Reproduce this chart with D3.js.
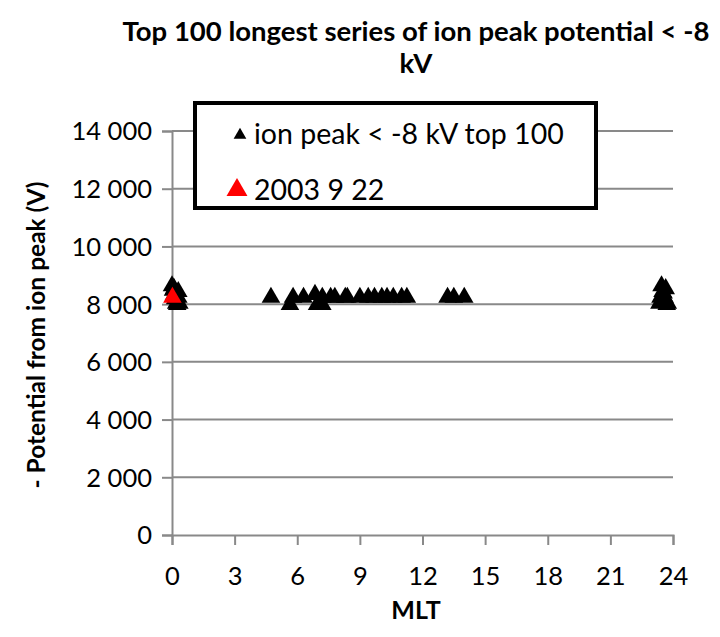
<!DOCTYPE html>
<html>
<head>
<meta charset="utf-8">
<script src="https://cdn.jsdelivr.net/npm/d3@7"></script>
<style>
  body { margin: 0; background: #fff; }
  text { font-family: Lato, "Open Sans", sans-serif; fill: #000; }
</style>
</head>
<body>
<div id="chart"></div>
<script>
// top 100 series (many overlap), MLT in hours, potential in V
var topMlt = [0.0, 0.05, 0.1, 0.15, 0.2, 0.25, 0.3, 0.35, 0.1, 0.3,
              4.74, 5.65, 5.8, 6.3, 6.85, 6.95, 7.2, 7.2, 7.6, 7.8,
              8.3, 8.4, 9.0, 9.4, 9.7, 10.05, 10.3, 10.6, 11.0, 11.25,
              13.2, 13.5, 14.0,
              23.35, 23.45, 23.5, 23.6, 23.7, 23.75, 23.4, 23.65, 23.55];
var topPot = [8700, 8550, 8400, 8250, 8100, 8050, 8300, 8100, 8600, 8500,
              8300, 8050, 8300, 8300, 8400, 8050, 8300, 8050, 8300, 8300,
              8300, 8300, 8300, 8300, 8300, 8300, 8300, 8300, 8300, 8300,
              8300, 8300, 8300,
              8100, 8700, 8500, 8300, 8050, 8100, 8300, 8600, 8450];
var eventMlt = [0.02];
var eventPot = [8300];
var xTicks = [0, 3, 6, 9, 12, 15, 18, 21, 24];
var yTicks = [0, 2000, 4000, 6000, 8000, 10000, 12000, 14000];
var legendLabels = ["ion peak < -8 kV top 100", "2003 9 22"];

var W = 720, H = 637;
var margin = {top: 131, right: 47, bottom: 102, left: 172};
var width = W - margin.left - margin.right,
    height = H - margin.top - margin.bottom;

var svg = d3.select("#chart").append("svg")
    .attr("width", W).attr("height", H);

var g = svg.append("g")
    .attr("transform", `translate(${margin.left},${margin.top})`);

var x = d3.scaleLinear().domain([0, 24]).range([0, width]);
var y = d3.scaleLinear().domain([0, 14000]).range([height, 0]);

var grey = "#898989";
var fmt = function(d) { return d3.format(",")(d).replace(",", " "); };

// gridlines
g.selectAll(".grid").data(yTicks.filter(d => d > 0)).enter()
  .append("line")
    .attr("x1", 0).attr("x2", width)
    .attr("y1", d => y(d)).attr("y2", d => y(d))
    .attr("stroke", grey).attr("stroke-width", 2);

// y axis
var yAxis = g.append("g")
    .call(d3.axisLeft(y).tickValues(yTicks).tickSize(10).tickPadding(10).tickFormat(fmt));
yAxis.select(".domain").attr("stroke", grey).attr("stroke-width", 2);
yAxis.selectAll("line").attr("stroke", grey).attr("stroke-width", 2);
yAxis.selectAll("text").style("font-size", "25.5px").attr("dy", "0.35em");

// x axis
var xAxis = g.append("g")
    .attr("transform", `translate(0,${height})`)
    .call(d3.axisBottom(x).tickValues(xTicks).tickSize(10).tickPadding(22));
xAxis.select(".domain").attr("stroke", grey).attr("stroke-width", 2);
xAxis.selectAll("line").attr("stroke", grey).attr("stroke-width", 2);
xAxis.selectAll("text").style("font-size", "25.5px");

// markers
var tri = d3.symbol().type(d3.symbolTriangle).size(150);
var topData = topMlt.map((m, i) => ({mlt: m, pot: topPot[i]}));
g.selectAll(".top").data(topData).enter()
  .append("path")
    .attr("d", tri)
    .attr("transform", d => `translate(${x(d.mlt)},${y(d.pot) + 2})`)
    .attr("fill", "#000");

var evData = eventMlt.map((m, i) => ({mlt: m, pot: eventPot[i]}));
g.selectAll(".ev").data(evData).enter()
  .append("path")
    .attr("d", tri)
    .attr("transform", d => `translate(${x(d.mlt)},${y(d.pot) + 2})`)
    .attr("fill", "#ff0000");

// legend
var leg = svg.append("g");
leg.append("rect")
    .attr("x", 195).attr("y", 103).attr("width", 401).attr("height", 105)
    .attr("fill", "#fff").attr("stroke", "#000").attr("stroke-width", 4);
leg.append("path")
    .attr("d", d3.symbol().type(d3.symbolTriangle).size(70))
    .attr("transform", "translate(240,135)").attr("fill", "#000");
leg.append("path")
    .attr("d", d3.symbol().type(d3.symbolTriangle).size(190))
    .attr("transform", "translate(237,190)").attr("fill", "#ff0000");
leg.selectAll(".lt").data(legendLabels).enter()
  .append("text")
    .attr("x", 254)
    .attr("y", (d, i) => 144 + i * 56)
    .style("font-size", "28.5px")
    .text(d => d);

// title
var title = svg.append("text")
    .attr("x", 416).attr("y", 41)
    .attr("text-anchor", "middle")
    .style("font-size", "27.5px").style("font-weight", "bold");
title.append("tspan").attr("x", 416).attr("y", 41)
    .text("Top 100 longest series of ion peak potential < -8");
title.append("tspan").attr("x", 416).attr("y", 73).text("kV");

// axis titles
svg.append("text")
    .attr("x", 416).attr("y", 619)
    .attr("text-anchor", "middle")
    .style("font-size", "25px").style("font-weight", "bold")
    .text("MLT");

svg.append("text")
    .attr("transform", "translate(45,335) rotate(-90)")
    .attr("text-anchor", "middle")
    .style("font-size", "24.5px").style("font-weight", "bold")
    .text("- Potential from ion peak (V)");
</script>
</body>
</html>
